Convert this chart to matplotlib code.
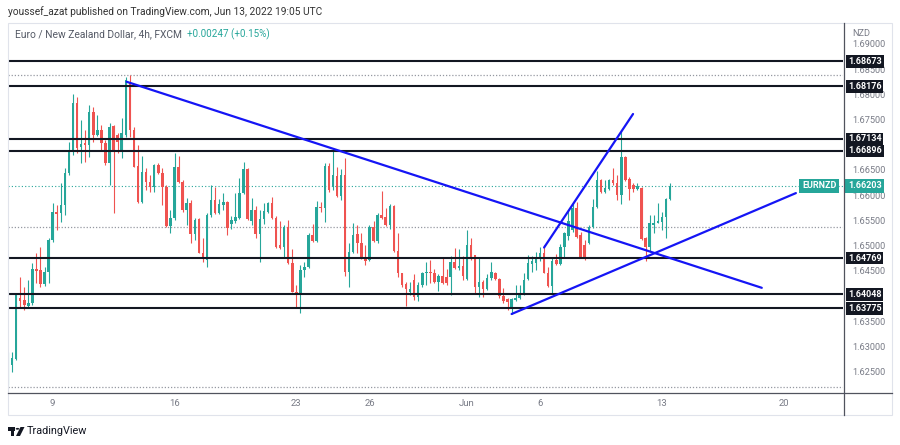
import matplotlib
matplotlib.use("Agg")
import matplotlib.pyplot as plt
from matplotlib.patches import Rectangle, Polygon, Circle
from matplotlib.lines import Line2D
import matplotlib.transforms as mtransforms

plt.rcParams['font.family'] = ['Roboto', 'DejaVu Sans']

# ---------------- data (EUR/NZD 4h candles) ----------------
OPEN = [
    1.6229, 1.6265, 1.6277, 1.6398, 1.6394, 1.6382, 1.6388, 1.6455, 1.6453, 1.6426,
    1.6449, 1.6513, 1.6568, 1.6567, 1.6582, 1.6646, 1.6692, 1.6785, 1.6698, 1.6705,
    1.6702, 1.6767, 1.6721, 1.6731, 1.6705, 1.6666, 1.6739, 1.6721, 1.6688, 1.6721,
    1.6824, 1.6731, 1.6660, 1.6588, 1.6648, 1.6628, 1.6618, 1.6662, 1.6646, 1.6618,
    1.6541, 1.6557, 1.6658, 1.6628, 1.6572, 1.6586, 1.6525, 1.6555, 1.6487, 1.6473,
    1.6562, 1.6592, 1.6567, 1.6582, 1.6588, 1.6545, 1.6551, 1.6557, 1.6606, 1.6654,
    1.6551, 1.6572, 1.6525, 1.6555, 1.6568, 1.6586, 1.6557, 1.6503, 1.6499, 1.6539,
    1.6467, 1.6410, 1.6404, 1.6453, 1.6459, 1.6523, 1.6511, 1.6578, 1.6576, 1.6660,
    1.6618, 1.6640, 1.6600, 1.6642, 1.6449, 1.6489, 1.6525, 1.6507, 1.6479, 1.6473,
    1.6539, 1.6511, 1.6562, 1.6559, 1.6543, 1.6580, 1.6491, 1.6447, 1.6426, 1.6410,
    1.6434, 1.6400, 1.6424, 1.6447, 1.6449, 1.6447, 1.6430, 1.6441, 1.6439, 1.6439,
    1.6469, 1.6457, 1.6461, 1.6436, 1.6503, 1.6483, 1.6420, 1.6430, 1.6416, 1.6437,
    1.6447, 1.6436, 1.6402, 1.6396, 1.6380, 1.6394, 1.6398, 1.6408, 1.6436, 1.6465,
    1.6467, 1.6475, 1.6487, 1.6447, 1.6422, 1.6473, 1.6465, 1.6499, 1.6521, 1.6533,
    1.6576, 1.6523, 1.6503, 1.6507, 1.6539, 1.6578, 1.6632, 1.6608, 1.6614, 1.6632,
    1.6626, 1.6602, 1.6678, 1.6634, 1.6622, 1.6614, 1.6616, 1.6517, 1.6499, 1.6543,
    1.6547, 1.6549, 1.6559, 1.6594]
HIGH = [
    1.6291, 1.6291, 1.6406, 1.6439, 1.6420, 1.6434, 1.6467, 1.6487, 1.6499, 1.6459,
    1.6517, 1.6586, 1.6582, 1.6626, 1.6656, 1.6707, 1.6803, 1.6797, 1.6751, 1.6731,
    1.6781, 1.6777, 1.6761, 1.6741, 1.6711, 1.6745, 1.6741, 1.6725, 1.6755, 1.6837,
    1.6840, 1.6737, 1.6702, 1.6680, 1.6656, 1.6642, 1.6664, 1.6666, 1.6656, 1.6622,
    1.6572, 1.6686, 1.6680, 1.6632, 1.6596, 1.6592, 1.6557, 1.6557, 1.6517, 1.6567,
    1.6622, 1.6618, 1.6594, 1.6606, 1.6590, 1.6561, 1.6606, 1.6636, 1.6668, 1.6656,
    1.6596, 1.6580, 1.6572, 1.6586, 1.6588, 1.6598, 1.6561, 1.6551, 1.6543, 1.6553,
    1.6495, 1.6424, 1.6463, 1.6469, 1.6527, 1.6545, 1.6590, 1.6588, 1.6666, 1.6666,
    1.6692, 1.6658, 1.6654, 1.6676, 1.6507, 1.6547, 1.6543, 1.6527, 1.6503, 1.6543,
    1.6551, 1.6567, 1.6610, 1.6576, 1.6584, 1.6582, 1.6527, 1.6447, 1.6430, 1.6430,
    1.6445, 1.6430, 1.6449, 1.6469, 1.6473, 1.6455, 1.6445, 1.6479, 1.6455, 1.6481,
    1.6497, 1.6495, 1.6481, 1.6533, 1.6517, 1.6483, 1.6479, 1.6434, 1.6445, 1.6469,
    1.6449, 1.6437, 1.6418, 1.6398, 1.6398, 1.6424, 1.6424, 1.6447, 1.6483, 1.6481,
    1.6489, 1.6499, 1.6503, 1.6459, 1.6477, 1.6485, 1.6505, 1.6529, 1.6572, 1.6586,
    1.6588, 1.6529, 1.6513, 1.6543, 1.6594, 1.6650, 1.6634, 1.6632, 1.6634, 1.6656,
    1.6642, 1.6731, 1.6680, 1.6638, 1.6626, 1.6626, 1.6618, 1.6519, 1.6562, 1.6562,
    1.6586, 1.6568, 1.6596, 1.6626]
LOW = [
    1.6225, 1.6251, 1.6275, 1.6380, 1.6374, 1.6380, 1.6384, 1.6428, 1.6420, 1.6422,
    1.6428, 1.6509, 1.6533, 1.6549, 1.6562, 1.6642, 1.6682, 1.6686, 1.6666, 1.6668,
    1.6678, 1.6707, 1.6719, 1.6692, 1.6662, 1.6622, 1.6567, 1.6686, 1.6676, 1.6717,
    1.6717, 1.6658, 1.6586, 1.6586, 1.6612, 1.6608, 1.6608, 1.6644, 1.6582, 1.6539,
    1.6527, 1.6553, 1.6626, 1.6568, 1.6543, 1.6507, 1.6513, 1.6487, 1.6469, 1.6459,
    1.6559, 1.6565, 1.6565, 1.6572, 1.6523, 1.6535, 1.6547, 1.6555, 1.6604, 1.6553,
    1.6543, 1.6517, 1.6469, 1.6545, 1.6567, 1.6555, 1.6497, 1.6495, 1.6479, 1.6465,
    1.6410, 1.6378, 1.6368, 1.6439, 1.6457, 1.6509, 1.6509, 1.6568, 1.6549, 1.6608,
    1.6612, 1.6598, 1.6592, 1.6441, 1.6420, 1.6487, 1.6487, 1.6475, 1.6463, 1.6471,
    1.6509, 1.6507, 1.6555, 1.6541, 1.6535, 1.6489, 1.6439, 1.6420, 1.6382, 1.6404,
    1.6394, 1.6392, 1.6420, 1.6424, 1.6428, 1.6428, 1.6412, 1.6426, 1.6424, 1.6404,
    1.6455, 1.6453, 1.6434, 1.6434, 1.6473, 1.6408, 1.6400, 1.6400, 1.6414, 1.6434,
    1.6434, 1.6398, 1.6388, 1.6374, 1.6366, 1.6392, 1.6396, 1.6404, 1.6434, 1.6449,
    1.6453, 1.6471, 1.6447, 1.6420, 1.6406, 1.6463, 1.6463, 1.6479, 1.6513, 1.6529,
    1.6517, 1.6477, 1.6473, 1.6505, 1.6537, 1.6576, 1.6606, 1.6606, 1.6612, 1.6622,
    1.6592, 1.6584, 1.6630, 1.6592, 1.6608, 1.6612, 1.6513, 1.6471, 1.6489, 1.6527,
    1.6547, 1.6533, 1.6517, 1.6592]
CLOSE = [
    1.6269, 1.6279, 1.6404, 1.6392, 1.6384, 1.6388, 1.6455, 1.6451, 1.6426, 1.6449,
    1.6513, 1.6568, 1.6565, 1.6582, 1.6646, 1.6692, 1.6785, 1.6696, 1.6704, 1.6702,
    1.6767, 1.6721, 1.6731, 1.6705, 1.6666, 1.6737, 1.6692, 1.6707, 1.6725, 1.6830,
    1.6731, 1.6658, 1.6588, 1.6648, 1.6628, 1.6618, 1.6662, 1.6646, 1.6618, 1.6541,
    1.6557, 1.6658, 1.6628, 1.6572, 1.6586, 1.6525, 1.6553, 1.6487, 1.6475, 1.6562,
    1.6592, 1.6567, 1.6584, 1.6588, 1.6537, 1.6553, 1.6559, 1.6606, 1.6654, 1.6555,
    1.6572, 1.6525, 1.6555, 1.6570, 1.6586, 1.6557, 1.6499, 1.6497, 1.6539, 1.6467,
    1.6410, 1.6404, 1.6453, 1.6459, 1.6523, 1.6511, 1.6578, 1.6576, 1.6660, 1.6612,
    1.6642, 1.6600, 1.6642, 1.6449, 1.6489, 1.6523, 1.6507, 1.6477, 1.6471, 1.6539,
    1.6511, 1.6562, 1.6557, 1.6543, 1.6580, 1.6491, 1.6447, 1.6424, 1.6416, 1.6416,
    1.6400, 1.6424, 1.6447, 1.6449, 1.6447, 1.6430, 1.6441, 1.6428, 1.6428, 1.6469,
    1.6457, 1.6461, 1.6441, 1.6503, 1.6475, 1.6420, 1.6430, 1.6416, 1.6437, 1.6449,
    1.6436, 1.6402, 1.6392, 1.6390, 1.6396, 1.6398, 1.6408, 1.6434, 1.6467, 1.6471,
    1.6479, 1.6487, 1.6447, 1.6422, 1.6471, 1.6465, 1.6499, 1.6527, 1.6551, 1.6576,
    1.6519, 1.6479, 1.6477, 1.6539, 1.6578, 1.6632, 1.6608, 1.6616, 1.6632, 1.6626,
    1.6602, 1.6678, 1.6632, 1.6614, 1.6614, 1.6620, 1.6515, 1.6499, 1.6547, 1.6547,
    1.6551, 1.6559, 1.6594, 1.6620]

LEVELS = [1.68673, 1.68176, 1.67134, 1.66896, 1.64769, 1.64048, 1.63775]
DOTTED_LEVELS = [1.6840, 1.6539, 1.6222]
LAST_PRICE = 1.66203
# price-scale labels visible in the reference (1.67000 / 1.64000 sit under level tags)
PRICE_TICKS = [1.69, 1.685, 1.68, 1.675, 1.665, 1.66, 1.655, 1.65,
               1.645, 1.635, 1.63, 1.625]
TIME_TICK_POS = [11, 41, 71, 89, 113, 131, 161, 191]
TIME_TICK_LABELS = ["9", "16", "23", "26", "Jun", "6", "13", "20"]
# trend lines: (bar index, price) pairs
TRENDLINES = [
    [(29.2, 1.6827), (185.6, 1.6418)],
    [(124.0, 1.6366), (194.0, 1.6606)],
    [(132.0, 1.6498), (153.9, 1.6763)],
]

GREEN = '#26a69a'
RED = '#ef5350'
BLACK = '#131722'
GRAY_TXT = '#787b86'
BLUE = '#1515f5'

W, H = 900, 445
fig = plt.figure(figsize=(W / 100, H / 100), dpi=100)
fig.patch.set_facecolor('white')


def fx(px):
    return px / W


def fy(py):
    return 1 - py / H


# ---------------- main price axes ----------------
L, R, T, B = 8, 843, 22, 392
ax = fig.add_axes([fx(L), fy(B), fx(R) - fx(L), fy(T) - fy(B)])
ax.set_xlim(0, 205.6)
ax.set_ylim(1.62112, 1.69456)
ax.set_axis_off()

# dotted reference lines
for lv in DOTTED_LEVELS:
    ax.axhline(lv, color='#9598a1', lw=0.9, ls=(0, (1, 1.5)), zorder=1)
ax.axhline(LAST_PRICE, color=GREEN, lw=0.8, ls=(0, (1, 2)), zorder=1)

# candles
for i, (o, h, l, c) in enumerate(zip(OPEN, HIGH, LOW, CLOSE)):
    col = GREEN if c >= o else RED
    ax.vlines(i, l, h, color=col, lw=0.8, zorder=3)
    body = max(abs(c - o), 0.00008)
    ax.bar(i, body, bottom=min(o, c), width=0.62, color=col, lw=0, zorder=3)

# horizontal levels
for lv in LEVELS:
    ax.axhline(lv, color=BLACK, lw=1.5, zorder=4)

# trend lines
for (x0, y0), (x1, y1) in TRENDLINES:
    ax.plot([x0, x1], [y0, y1], color=BLUE, lw=1.6, zorder=5,
            solid_capstyle='round')

# ---------------- price scale ----------------
trans = mtransforms.blended_transform_factory(ax.transAxes, ax.transData)
xlab = (852 - L) / (R - L)
for p in PRICE_TICKS:
    ax.text(xlab, p, f"{p:.5f}", transform=trans, ha='left', va='center',
            fontsize=6.6, color=GRAY_TXT, clip_on=False, zorder=2)

xbox = (848 - L) / (R - L)
for lv in LEVELS:
    ax.text(xbox, lv, f"{lv:.5f}", transform=trans, ha='left', va='center',
            fontsize=6.5, color='white', fontweight='bold', clip_on=False,
            zorder=10,
            bbox=dict(boxstyle='square,pad=0.2', fc=BLACK, ec='none'))
ax.text(xbox, LAST_PRICE, f"{LAST_PRICE:.5f}", transform=trans, ha='left',
        va='center', fontsize=6.5, color='white', fontweight='bold',
        clip_on=False, zorder=10,
        bbox=dict(boxstyle='square,pad=0.28', fc=GREEN, ec='none'))
ax.text((802 - L) / (R - L), LAST_PRICE, "EURNZD", transform=trans,
        ha='left', va='center', fontsize=6.5, color='white',
        fontweight='bold', clip_on=False, zorder=10,
        bbox=dict(boxstyle='square,pad=0.3', fc=GREEN, ec='none'))
fig.text(fx(852), fy(33), "NZD", fontsize=6.6, color=GRAY_TXT,
         ha='left', va='center')

# ---------------- time scale ----------------
ttrans = mtransforms.blended_transform_factory(ax.transData, ax.transAxes)
for pos, lab in zip(TIME_TICK_POS, TIME_TICK_LABELS):
    ax.text(pos, -0.032, lab, transform=ttrans, ha='center', va='center',
            fontsize=6.8, color=GRAY_TXT, clip_on=False)

# ---------------- frame ----------------
frame_col = '#e0e3eb'
fig.add_artist(Rectangle((fx(7.5), fy(415)), fx(892) - fx(7.5), fy(22.5) - fy(415),
                         fill=False, ec=frame_col, lw=0.8,
                         transform=fig.transFigure))
fig.add_artist(Line2D([fx(843.5), fx(843.5)], [fy(22.5), fy(415)],
                      color='#50535e', lw=0.9, transform=fig.transFigure))
fig.add_artist(Line2D([fx(7.5), fx(892)], [fy(392.5), fy(392.5)],
                      color='#50535e', lw=0.9, transform=fig.transFigure))

# ---------------- header texts ----------------
fig.text(fx(8), fy(12), "youssef_azat published on TradingView.com, Jun 13, 2022 19:05 UTC",
         fontsize=7.25, color='#333333', ha='left', va='center')
fig.text(fx(15), fy(34), "Euro / New Zealand Dollar, 4h, FXCM",
         fontsize=7.4, color='#555a66', ha='left', va='center')
fig.text(fx(187), fy(34), "+0.00247 (+0.15%)", fontsize=7.1, color=GREEN,
         ha='left', va='center')

# ---------------- TradingView logo ----------------
logo = BLACK
fig.add_artist(Rectangle((fx(8), fy(430.5)), fx(7) - fx(0), fy(427) - fy(430.5),
                         fc=logo, ec='none', transform=fig.transFigure))
fig.add_artist(Rectangle((fx(11), fy(436)), fx(3) - fx(0), fy(430) - fy(436),
                         fc=logo, ec='none', transform=fig.transFigure))
fig.add_artist(Circle((fx(17.5), fy(428.8)), 1.8 / W, fc=logo, ec='none',
                      transform=fig.transFigure))
fig.add_artist(Polygon([(fx(20.5), fy(427)), (fx(24.5), fy(427)),
                        (fx(20), fy(436)), (fx(16), fy(436))],
                       closed=True, fc=logo, ec='none', transform=fig.transFigure))
fig.text(fx(27), fy(431.5), "TradingView", fontsize=7.8, color=BLACK,
         ha='left', va='center')

fig.savefig("out.png", dpi=100, facecolor='white')
